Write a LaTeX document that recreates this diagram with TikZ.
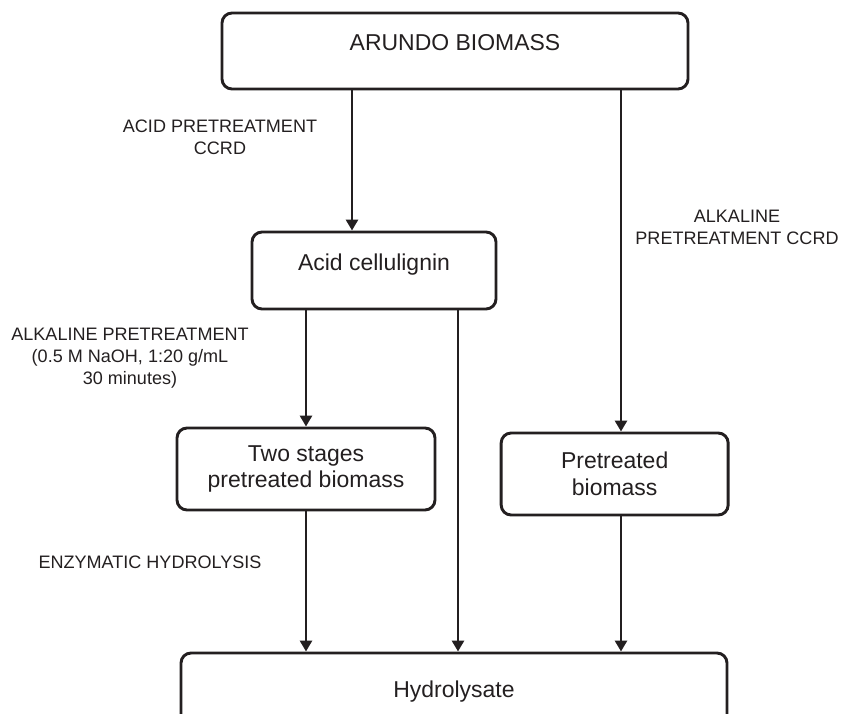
\documentclass[tikz,border=0pt]{standalone}
\usepackage{fontspec}
\setmainfont{Liberation Sans}
\usepackage{xcolor}
\usetikzlibrary{arrows.meta}
\definecolor{flowInk}{RGB}{35,31,32}

\begin{document}
\begin{tikzpicture}[procbox/.style={draw=flowInk,line width=2.5pt,rounded corners=0.3cm,text=flowInk,inner sep=0pt,font=\fontsize{19.6}{23}\selectfont,text height=0.5cm,text depth=0.5cm},
  procbox2/.style={draw=flowInk,line width=2.5pt,rounded corners=0.3cm,text=flowInk,inner sep=0pt,font=\fontsize{19.6}{23}\selectfont,align=center},
  stepnote/.style={text=flowInk,font=\fontsize{15.4}{18.8}\selectfont,align=center},
  arr/.style={draw=flowInk,line width=2.4pt,-{Triangle[length=0.33cm,width=0.36cm]}}]
  \def\picw{25.23}
  \def\pich{21.42}
  \clip (0,0) rectangle (\picw,-\pich);
  % columns of the arrows
  \coordinate (acidcol) at (10.56,0);
  \coordinate (directcol) at (13.74,0);
  \coordinate (alkcol) at (18.63,0);
  \node[procbox,minimum width=13.98cm,minimum height=2.28cm] (arundo) at (13.65,-1.53) {ARUNDO BIOMASS};
  \node[procbox,minimum width=7.32cm,minimum height=2.31cm] (acid) at (11.22,-8.115) {Acid cellulignin};
  \node[procbox2,minimum width=7.74cm,minimum height=2.46cm] (twostage) at (9.18,-14.07) {Two stages\\pretreated biomass};
  \node[procbox2,minimum width=6.81cm,minimum height=2.46cm] (pretreat) at (18.44,-14.22) {Pretreated\\biomass};
  \node[procbox,minimum width=16.38cm,minimum height=2.64cm] (hydro) at (13.62,-20.91) {Hydrolysate};
  \draw[arr] (arundo.south -| acidcol) -- (acid.north -| acidcol);
  \draw[arr] (arundo.south -| alkcol) -- (pretreat.north -| alkcol);
  \draw[arr] (acid.south -| twostage.north) -- (twostage.north);
  \draw[arr] (acid.south -| directcol) -- (hydro.north -| directcol);
  \draw[arr] (twostage.south) -- (hydro.north -| twostage.south);
  \draw[arr] (pretreat.south -| alkcol) -- (hydro.north -| alkcol);
  \node[stepnote] (acidnote) at (6.6,-4.11) {ACID PRETREATMENT\\CCRD};
  \node[stepnote] (alknote) at (22.11,-6.83) {ALKALINE\\PRETREATMENT CCRD};
  \node[stepnote] (naohnote) at (3.9,-10.74) {ALKALINE PRETREATMENT\\(0.5 M NaOH, 1:20 g/mL\\30 minutes)};
  \node[stepnote] (enznote) at (4.5,-16.86) {ENZYMATIC HYDROLYSIS};
\end{tikzpicture}
\end{document}
